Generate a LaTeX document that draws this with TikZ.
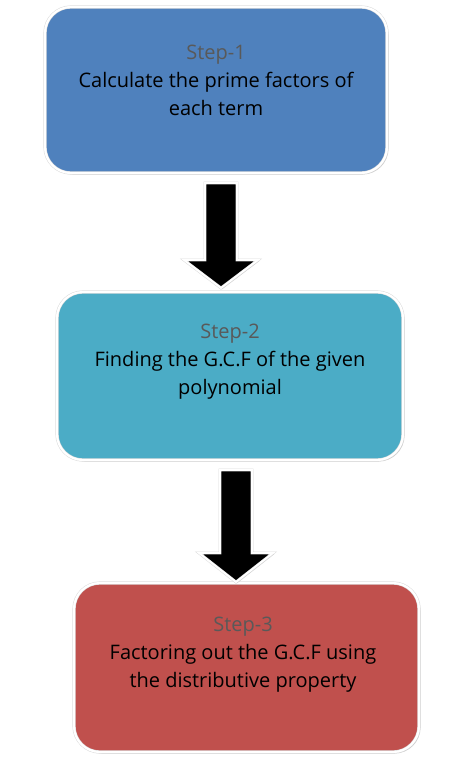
\documentclass[tikz,border=0pt]{standalone}
\usepackage{fontspec}
\setmainfont{Open Sans}
\usetikzlibrary{shadows}
\definecolor{boxblue}{HTML}{4F81BD}
\definecolor{boxteal}{HTML}{4BACC6}
\definecolor{boxred}{HTML}{C0504D}
\definecolor{steptxt}{HTML}{595959}
\tikzset{
  stepbox/.style={draw=black!14, line width=0.5pt, double=white, double distance=2.2pt,
    rounded corners=26pt, minimum width=#1, inner sep=0pt,
    drop shadow={shadow xshift=1.5pt, shadow yshift=-1.5pt, fill=black!35, opacity=0.6}},
  steplabel/.style={align=center, font=\fontsize{20}{28}\selectfont, text=black},
  downarrow/.style={fill=black, draw=black!14, line width=0.5pt, double=white, double distance=1.8pt,
    line join=miter,
    drop shadow={shadow xshift=1.2pt, shadow yshift=-1.2pt, fill=black!30, opacity=0.6}}
}
\begin{document}
\begin{tikzpicture}[x=1pt,y=-1pt]
\useasboundingbox (0,0) rectangle (467,776);
% boxes
\node[stepbox=342pt, minimum height=166pt, fill=boxblue] (b1) at (216,90) {};
\node[stepbox=346pt, minimum height=168pt, fill=boxteal] (b2) at (230,376) {};
\node[stepbox=345pt, minimum height=169pt, fill=boxred] (b3) at (246.5,667.5) {};
% texts
\node[steplabel] (t1) at (216,80) {{\color{steptxt}Step-1}\\Calculate the prime factors of\\each term};
\node[steplabel] (t2) at (230,362) {{\color{steptxt}Step-2}\\Finding the G.C.F of the given\\polynomial};
\node[steplabel] (t3) at (243,655) {{\color{steptxt}Step-3}\\Factoring out the G.C.F using\\the distributive property};
% arrows
\coordinate (a1) at (221,183);
\coordinate (a2) at (236,470);
\draw[downarrow] ([xshift=-16]a1) -- ([xshift=16]a1) -- ([xshift=16,yshift=-77]a1) -- ([xshift=37,yshift=-77]a1)
  -- ([yshift=-105]a1) -- ([xshift=-37,yshift=-77]a1) -- ([xshift=-16,yshift=-77]a1) -- cycle;
\draw[downarrow] ([xshift=-16]a2) -- ([xshift=16]a2) -- ([xshift=16,yshift=-83]a2) -- ([xshift=37,yshift=-83]a2)
  -- ([yshift=-112]a2) -- ([xshift=-37,yshift=-83]a2) -- ([xshift=-16,yshift=-83]a2) -- cycle;
\end{tikzpicture}
\end{document}
